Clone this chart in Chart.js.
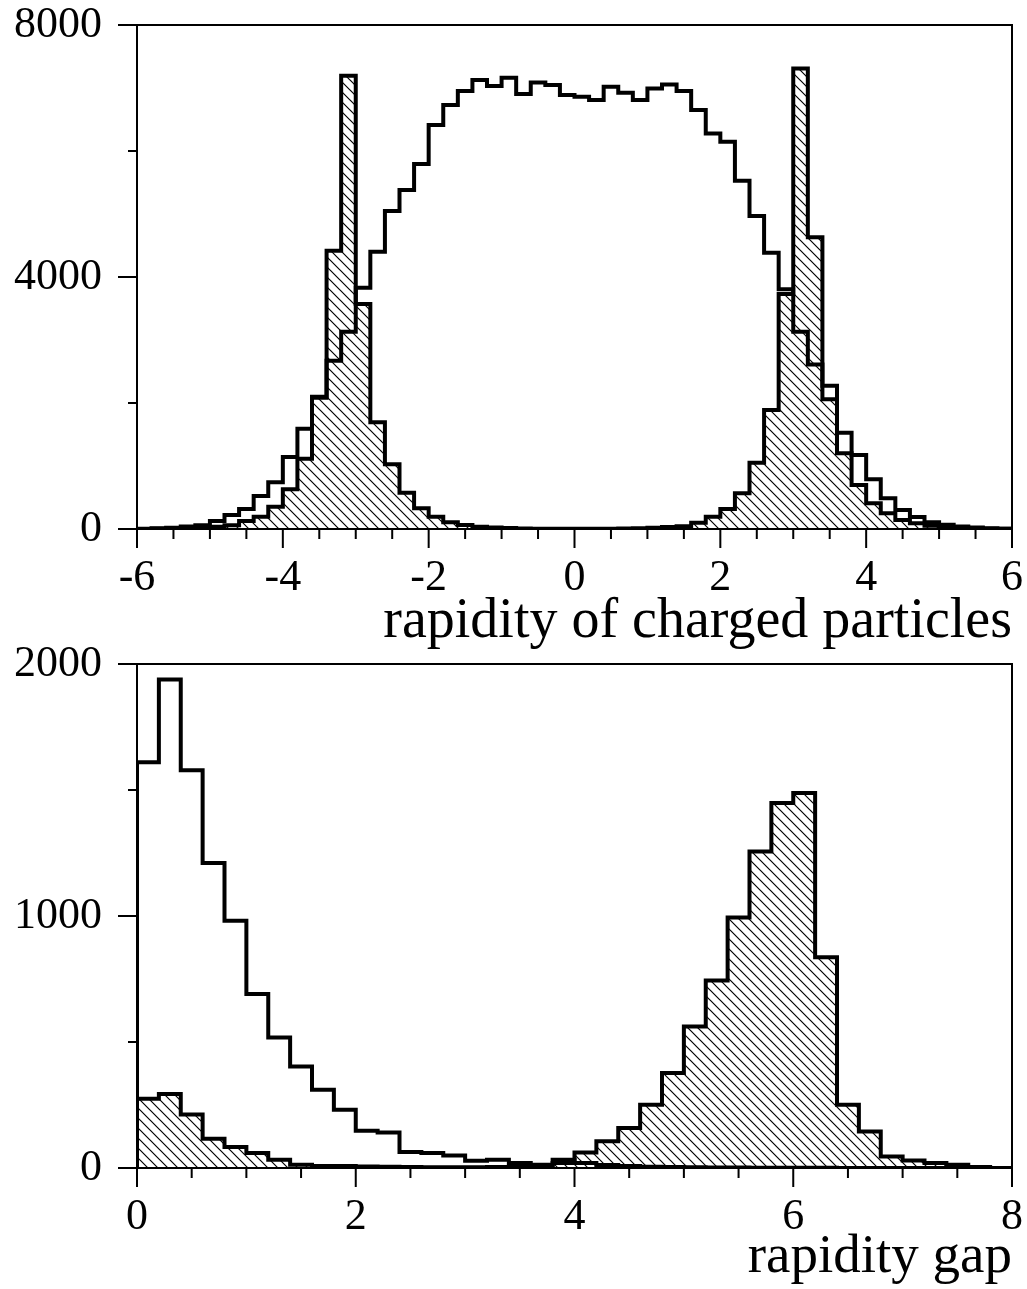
<!DOCTYPE html>
<html>
<head>
<meta charset="utf-8">
<title>Rapidity distributions</title>
<script src="https://cdn.jsdelivr.net/npm/chart.js@4.4.1/dist/chart.umd.min.js"></script>
<style>
  html, body { margin: 0; padding: 0; background: #fff; }
  #wrap { position: relative; width: 1027px; height: 1289px; }
  canvas { position: absolute; left: 0; }
  #top-chart { top: 0; }
  #gap-chart { top: 620px; }
</style>
</head>
<body>
<div id="wrap">
  <canvas id="top-chart" width="1027" height="660"></canvas>
  <canvas id="gap-chart" width="1027" height="669"></canvas>
</div>
<script>
// bins are 0.2 wide; values are the left edge of each bin
const binWidth = 0.2;

// top panel: rapidity of charged particles, -6 .. 6
const rapStart = -6;
const rapAll = [
  5, 10, 20, 40, 60, 127, 222, 317, 524, 741,
  1143, 1592, 2100, 2671, 3132, 3830, 4401, 5047, 5380, 5793,
  6411, 6729, 6951, 7126, 7031, 7163, 6903, 7089, 7046, 6888,
  6861, 6809, 7020, 6925, 6809, 6994, 7057, 6951, 6650, 6279,
  6147, 5528, 4967, 4385, 3804, 3132, 2613, 2275, 1529, 1174,
  788, 487, 302, 190, 106, 69, 40, 25, 10, 5
];
const rapHatched = [
  0, 3, 6, 10, 20, 35, 58, 127, 196, 355,
  630, 1116, 2085, 4417, 7195, 3571, 1693, 1026, 577, 328,
  196, 106, 64, 37, 25, 15, 8, 5, 3, 2,
  2, 3, 5, 8, 12, 18, 30, 45, 100, 196,
  317, 566, 1053, 1889, 3729, 7311, 4629, 2058, 1201, 698,
  407, 249, 143, 90, 53, 30, 20, 10, 5, 2
];

// bottom panel: rapidity gap, 0 .. 8
const gapStart = 0;
const gapAll = [
  1610, 1938, 1578, 1210, 981, 690, 518, 403, 311, 231,
  148, 141, 63, 60, 50, 29, 33, 20, 13, 33,
  20, 12, 8, 5, 4, 3, 2, 2, 1, 1,
  1, 1, 0, 0, 0, 0, 0, 0, 0, 0
];
const gapHatched = [
  275, 294, 212, 116, 83, 60, 33, 13, 8, 8,
  6, 5, 4, 3, 3, 3, 4, 5, 8, 20,
  62, 106, 159, 251, 377, 562, 744, 994, 1256, 1448,
  1488, 836, 251, 145, 46, 30, 20, 13, 4, 0
];

const serif = "'Liberation Serif', 'Times New Roman', serif";

Chart.defaults.color = '#000';
Chart.defaults.font.family = serif;

function histPoints(start, values) {
  const pts = [{ x: start, y: 0 }];
  values.forEach((v, i) => pts.push({ x: start + i * binWidth, y: v }));
  pts.push({ x: start + values.length * binWidth, y: values[values.length - 1] });
  return pts;
}

function hatchPattern() {
  const size = 10;
  const c = document.createElement('canvas');
  c.width = size;
  c.height = size;
  const g = c.getContext('2d');
  g.strokeStyle = '#000';
  g.lineWidth = 1.2;
  g.beginPath();
  for (let k = -1; k <= 1; k++) {
    g.moveTo(k * size - 1, -1);
    g.lineTo(k * size + size + 1, size + 1);
  }
  g.stroke();
  return g.createPattern(c, 'repeat');
}

const isMultiple = (v, step) => Math.abs(v / step - Math.round(v / step)) < 1e-6;

// frame box plus long/short tick marks outside the plot
const frameTicks = {
  id: 'frameTicks',
  afterDraw(chart, args, opts) {
    const { ctx, chartArea: a, scales: { x, y } } = chart;
    ctx.save();
    ctx.strokeStyle = '#000';
    ctx.lineWidth = 2;
    ctx.strokeRect(a.left, a.top, a.right - a.left, a.bottom - a.top);
    ctx.beginPath();
    x.ticks.forEach(t => {
      const px = x.getPixelForValue(t.value);
      const len = isMultiple(t.value, opts.xMajor) ? 19 : 10;
      ctx.moveTo(px, a.bottom);
      ctx.lineTo(px, a.bottom + len);
    });
    y.ticks.forEach(t => {
      const py = y.getPixelForValue(t.value);
      const len = isMultiple(t.value, opts.yMajor) ? 19 : 9;
      ctx.moveTo(a.left, py);
      ctx.lineTo(a.left - len, py);
    });
    ctx.stroke();
    ctx.restore();
  }
};

function makeChart(id, cfg) {
  const ctx = document.getElementById(id).getContext('2d');
  const lineStyle = {
    borderColor: '#000',
    borderWidth: 4,
    borderJoinStyle: 'miter',
    pointRadius: 0,
    stepped: 'before',
    tension: 0
  };
  return new Chart(ctx, {
    type: 'line',
    data: {
      datasets: [
        { ...lineStyle, label: 'all', data: histPoints(cfg.start, cfg.all), fill: false },
        { ...lineStyle, label: 'hatched', data: histPoints(cfg.start, cfg.hatched), fill: 'origin', backgroundColor: hatchPattern() }
      ]
    },
    options: {
      responsive: false,
      animation: false,
      layout: { padding: { left: 0, right: 15, top: cfg.top, bottom: 0 } },
      plugins: {
        legend: { display: false },
        tooltip: { enabled: false },
        frameTicks: { xMajor: cfg.xMajor, yMajor: cfg.yMajor }
      },
      scales: {
        x: {
          type: 'linear',
          min: cfg.xMin,
          max: cfg.xMax,
          border: { display: false },
          grid: { drawOnChartArea: false, drawTicks: true, tickLength: 27, color: 'transparent' },
          ticks: {
            stepSize: 0.5,
            autoSkip: false,
            maxRotation: 0,
            padding: 0,
            font: { size: 44, lineHeight: 1 },
            callback: v => isMultiple(v, cfg.xMajor) ? String(v) : ''
          },
          title: {
            display: true,
            text: cfg.title,
            align: 'end',
            font: { size: cfg.titleSize, lineHeight: 1 },
            padding: { top: 0, bottom: cfg.titlePad }
          },
          afterFit: s => { s.height = cfg.xHeight; }
        },
        y: {
          min: 0,
          max: cfg.yMax,
          border: { display: false },
          grid: { drawOnChartArea: false, drawTicks: true, tickLength: 35, color: 'transparent' },
          ticks: {
            stepSize: cfg.yStep,
            padding: 0,
            font: { size: 44, lineHeight: 1 },
            callback: v => isMultiple(v, cfg.yMajor) ? String(v) : ''
          },
          afterFit: s => { s.width = 137; }
        }
      }
    },
    plugins: [frameTicks]
  });
}

makeChart('top-chart', {
  start: rapStart, all: rapAll, hatched: rapHatched,
  xMin: -6, xMax: 6, xMajor: 2,
  yMax: 8000, yStep: 2000, yMajor: 4000,
  title: 'rapidity of charged particles', titleSize: 56,
  top: 25, xHeight: 131, titlePad: 10
});

makeChart('gap-chart', {
  start: gapStart, all: gapAll, hatched: gapHatched,
  xMin: 0, xMax: 8, xMajor: 2,
  yMax: 2000, yStep: 500, yMajor: 1000,
  title: 'rapidity gap', titleSize: 55,
  top: 44, xHeight: 121, titlePad: 4
});
</script>
</body>
</html>
